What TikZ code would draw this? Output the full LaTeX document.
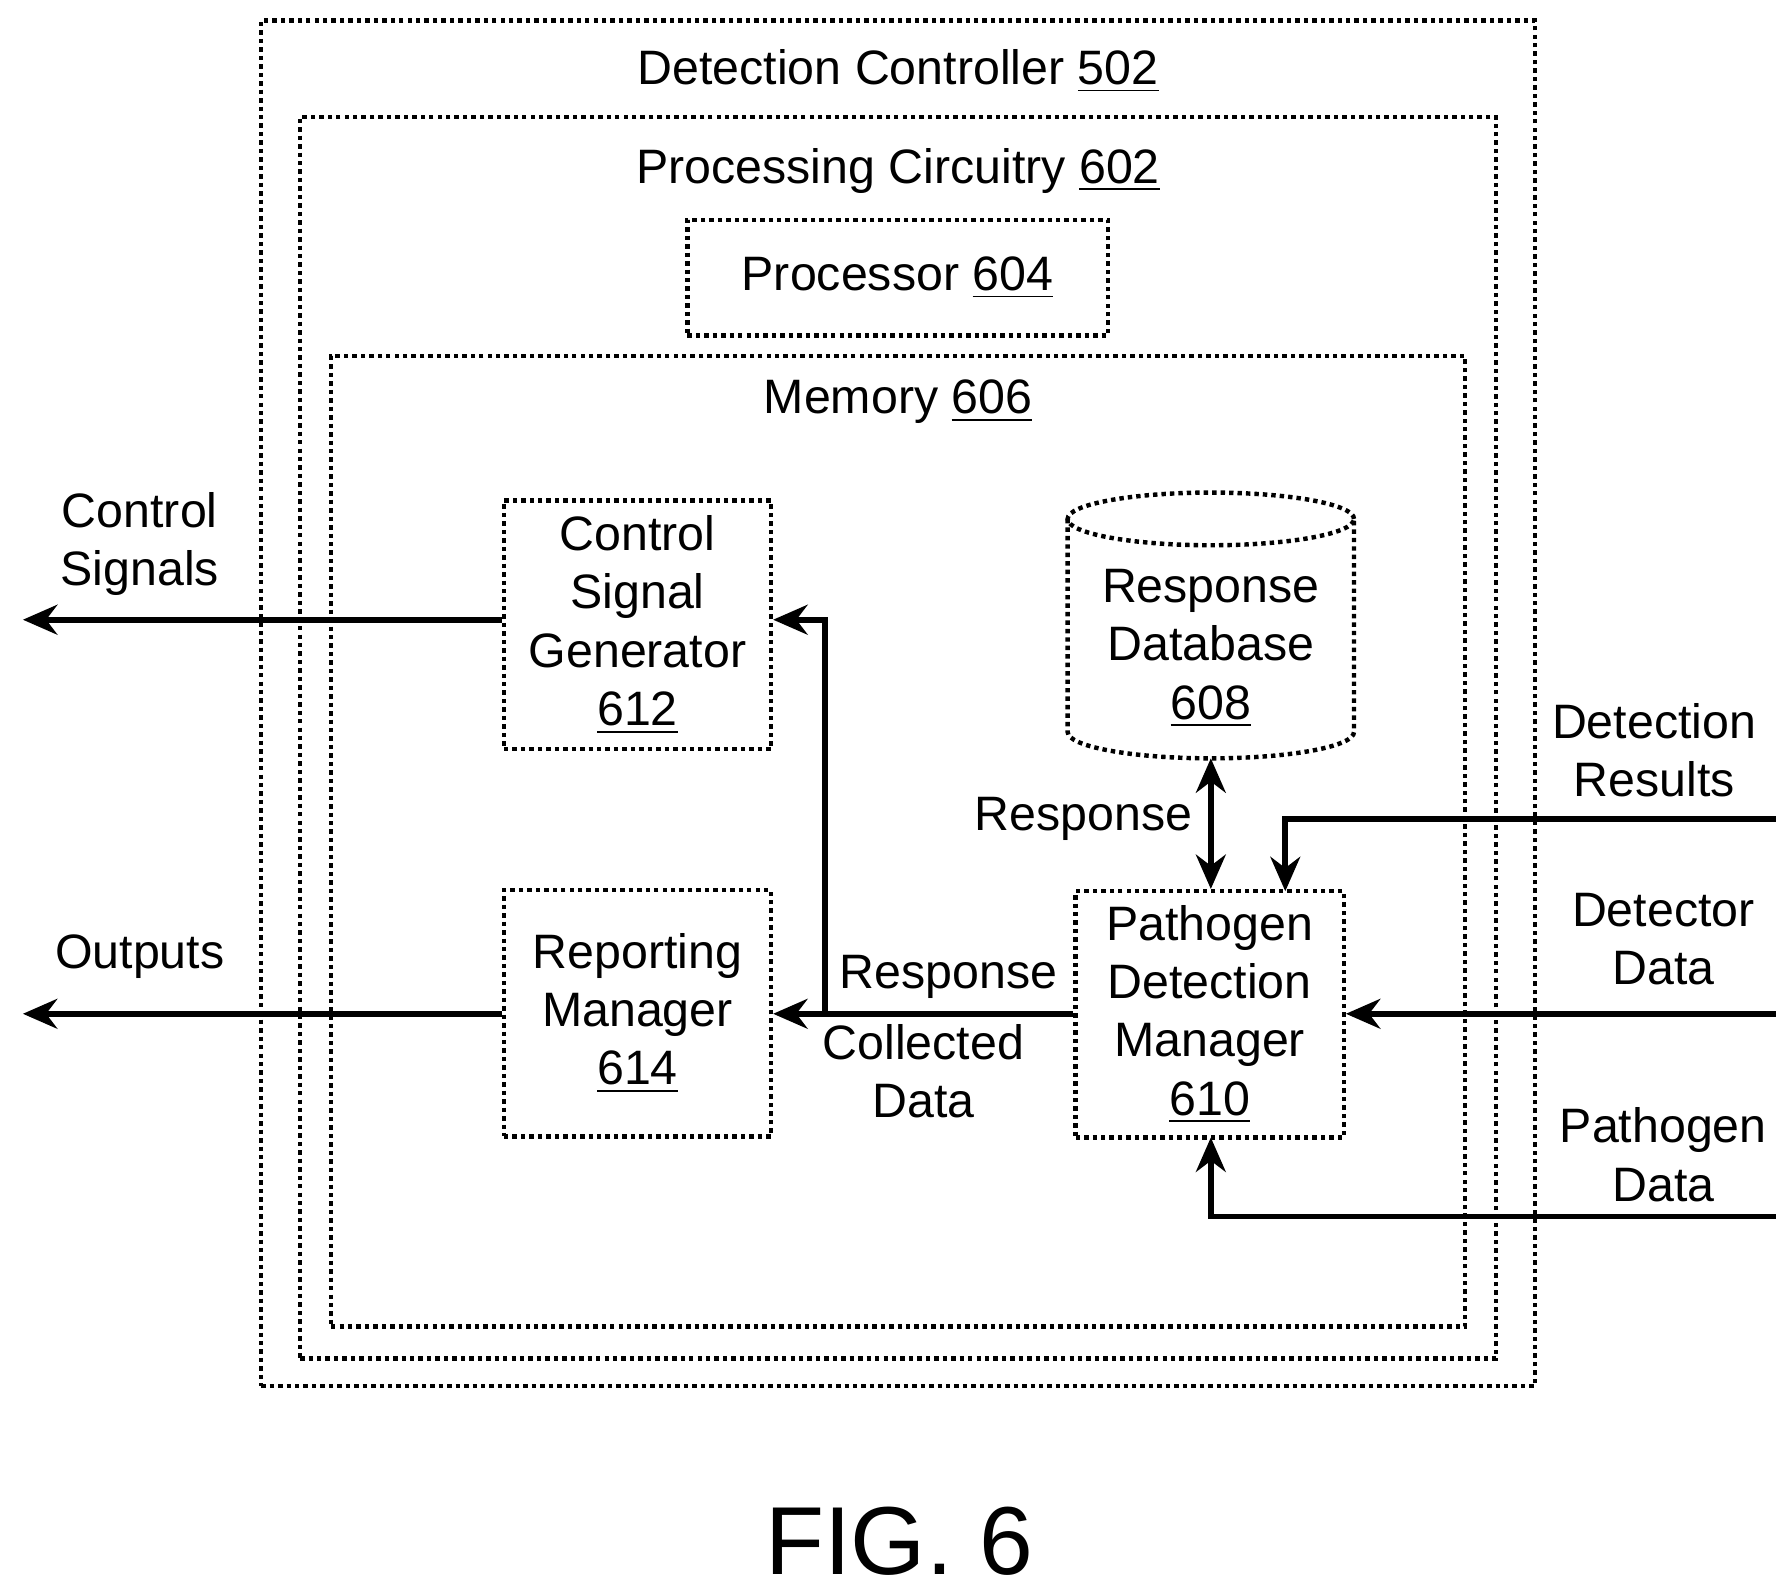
\documentclass[tikz,border=0pt]{standalone}
\usepackage{fontspec}
\setmainfont{Liberation Sans}
\usetikzlibrary{shapes.geometric, arrows.meta, positioning, calc}

\begin{document}
\begin{tikzpicture}[
    box/.style={rectangle, draw=black, densely dotted, line width=1.1pt, align=center, inner sep=0pt},
    txt/.style={font=\fontsize{12}{14.5}\selectfont, align=center},
    lbl/.style={font=\fontsize{12}{14.5}\selectfont, align=center, inner sep=1pt},
    outline/.style={draw=black, densely dotted, line width=1.1pt},
    arrow/.style={-{Stealth[length=3mm, width=2.6mm]}, line width=1.4pt},
    darrow/.style={{Stealth[length=3mm, width=2.6mm]}-{Stealth[length=3mm, width=2.6mm]}, line width=1.4pt}
]
\useasboundingbox (0,0) rectangle (15.6,-13.92);

% Containers
\node[box, minimum width=11.12cm, minimum height=11.92cm] (ctrl) at (7.84,-6.14) {};
\node[txt] at (7.84,-0.62) {Detection Controller \underline{502}};
\node[box, minimum width=10.44cm, minimum height=10.84cm] (proc) at (7.84,-6.44) {};
\node[txt] at (7.84,-1.49) {Processing Circuitry \underline{602}};
\node[box, minimum width=3.67cm, minimum height=1.01cm, txt] (cpu) at (7.835,-2.425) {Processor \underline{604}};
\node[box, minimum width=9.9cm, minimum height=8.47cm] (mem) at (7.84,-7.345) {};
\node[txt] at (7.84,-3.51) {Memory \underline{606}};

% Blocks
\node[box, txt, minimum width=2.33cm, minimum height=2.17cm] (csg) at (5.565,-5.455) {Control\\Signal\\Generator\\\underline{612}};
\node[box, txt, minimum width=2.33cm, minimum height=2.15cm] (rm) at (5.565,-8.845) {Reporting\\Manager\\\underline{614}};
\node[box, txt, minimum width=2.34cm, minimum height=2.15cm] (pdm) at (10.56,-8.855) {Pathogen\\Detection\\Manager\\\underline{610}};

% Database cylinder
\draw[outline] (10.57,-4.53) ellipse (1.25cm and 0.23cm);
\draw[outline] (9.32,-4.53) -- (9.32,-6.39) arc (180:360:1.25cm and 0.23cm) -- (11.82,-4.53);
\node[txt] (db) at (10.57,-5.66) {Response\\Database\\\underline{608}};
\coordinate (dbBot) at (10.57,-6.62);

% Outer ends
\coordinate (csOut) at (0.2,-5.41);
\coordinate (outOut) at (0.2,-8.85);
\coordinate (drIn) at (15.5,-7.15);
\coordinate (ddIn) at (15.5,-8.85);
\coordinate (pdIn) at (15.5,-10.62);
\coordinate (split) at (7.2,-8.85);

% Connectors
\draw[arrow] (csg.west |- csOut) -- (csOut);
\draw[arrow] (rm.west |- outOut) -- (outOut);
\draw[arrow] (pdm.west |- split) -- (rm.east |- split);
\draw[arrow] (split) -- (7.2,-5.41) -- (csg.east |- 0,-5.41);
\draw[darrow] (dbBot) -- (pdm.north -| dbBot);
\draw[arrow] (drIn) -- (11.22,-7.15) -- (11.22,-7.78);
\draw[arrow] (ddIn) -- (pdm.east |- ddIn);
\draw[arrow] (pdIn) -- (10.57,-10.62) -- (10.57,-9.93);

% Labels
\node[lbl] at (1.22,-4.75) {Control\\Signals};
\node[lbl] at (1.22,-8.35) {Outputs};
\node[lbl] at (8.28,-8.53) {Response};
\node[lbl] at (8.06,-9.35) {Collected\\Data};
\node[lbl] at (9.46,-7.15) {Response};
\node[lbl] at (14.44,-6.55) {Detection\\Results};
\node[lbl] at (14.52,-8.2) {Detector\\Data};
\node[lbl] at (14.52,-10.08) {Pathogen\\Data};
\node[font=\fontsize{24}{28}\selectfont] (fig) at (7.85,-13.45) {FIG. 6};
\end{tikzpicture}
\end{document}
